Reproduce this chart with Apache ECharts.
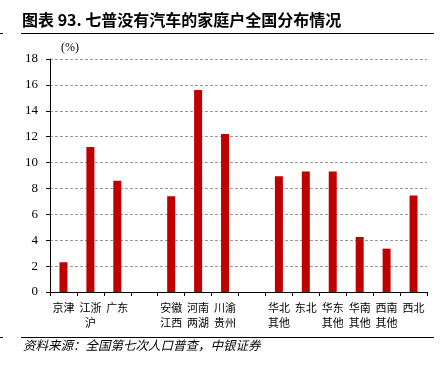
<!DOCTYPE html>
<html>
<head>
<meta charset="utf-8">
<style>
  html, body { margin: 0; padding: 0; background: #fff; }
  #chart { width: 445px; height: 368px; }
</style>
<script src="https://cdn.jsdelivr.net/npm/echarts@6/dist/echarts.min.js"></script>
</head>
<body>
<div id="chart"></div>
<script>
  var categories = ['京津', '江浙\n沪', '广东', '', '安徽\n江西', '河南\n两湖', '川渝\n贵州', '',
    '华北\n其他', '东北', '华东\n其他', '华南\n其他', '西南\n其他', '西北'];
  var values = [2.3, 11.2, 8.6, null, 7.4, 15.6, 12.2, null, 8.95, 9.3, 9.3, 4.25, 3.35, 7.45];
  var yTicks = { min: 0, max: 18, interval: 2 };

  var cjk = '"Noto Sans CJK SC", sans-serif';
  var serif = '"Liberation Serif", "Times New Roman", serif';

  var chart = echarts.init(document.getElementById('chart'), null, { renderer: 'canvas' });
  chart.setOption({
    animation: false,
    grid: { left: 50, right: 18, top: 59, bottom: 76, containLabel: false },
    xAxis: {
      type: 'category',
      data: categories,
      boundaryGap: true,
      axisLine: { lineStyle: { color: '#000', width: 1 } },
      axisTick: { show: true, length: 4, alignWithLabel: false, lineStyle: { color: '#000' } },
      axisLabel: {
        interval: 0,
        margin: 8,
        color: '#000',
        fontFamily: cjk,
        fontSize: 11,
        lineHeight: 15
      }
    },
    yAxis: {
      type: 'value',
      min: yTicks.min,
      max: yTicks.max,
      interval: yTicks.interval,
      axisLine: { show: true, lineStyle: { color: '#000', width: 1 } },
      axisTick: { show: true, length: 4, inside: false, lineStyle: { color: '#000' } },
      axisLabel: { color: '#000', fontFamily: serif, fontSize: 13, margin: 12 },
      splitLine: { show: true, lineStyle: { color: '#999', type: [3, 2], width: 1 } }
    },
    series: [{
      type: 'bar',
      data: values,
      barWidth: 8,
      itemStyle: { color: '#C00000' }
    }],
    graphic: [
      { type: 'text', left: 22, top: 12, style: { text: '图表 93. 七普没有汽车的家庭户全国分布情况', fontFamily: cjk, fontSize: 16, fontWeight: 'bold', fill: '#000' } },
      { type: 'line', shape: { x1: 21, y1: 33.5, x2: 434, y2: 33.5 }, style: { stroke: '#000', lineWidth: 1 } },
      { type: 'line', shape: { x1: 0, y1: 33.5, x2: 3, y2: 33.5 }, style: { stroke: '#000', lineWidth: 1 } },
      { type: 'text', left: 61, top: 42, style: { text: '(%)', fontFamily: serif, fontSize: 12, fill: '#000' } },
      { type: 'line', shape: { x1: 21, y1: 337.5, x2: 434, y2: 337.5 }, style: { stroke: '#000', lineWidth: 1 } },
      { type: 'line', shape: { x1: 0, y1: 337.5, x2: 3, y2: 337.5 }, style: { stroke: '#000', lineWidth: 1 } },
      { type: 'text', left: 23, top: 339, style: { text: '资料来源：全国第七次人口普查，中银证券', fontFamily: cjk, fontSize: 12.5, fontStyle: 'italic', fill: '#000' } }
    ]
  });
  window.addEventListener('resize', function () { chart.resize(); });
</script>
</body>
</html>
